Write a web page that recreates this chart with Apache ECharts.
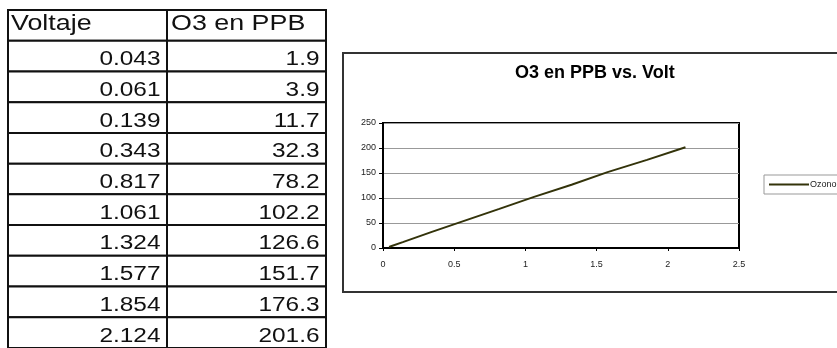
<!DOCTYPE html>
<html><head><meta charset="utf-8">
<script src="https://cdn.jsdelivr.net/npm/echarts@6/dist/echarts.min.js"></script>
<style>html,body{margin:0;padding:0;background:#fff}#c{width:837px;height:348px}</style>
</head><body><div id="c"></div>
<script>
// ---- data ----
const tableHeaders = ['Voltaje', 'O3 en PPB'];
const voltaje = [0.043, 0.061, 0.139, 0.343, 0.817, 1.061, 1.324, 1.577, 1.854, 2.124];
const ozono = [1.9, 3.9, 11.7, 32.3, 78.2, 102.2, 126.6, 151.7, 176.3, 201.6];
const seriesName = 'Ozono';
const chartTitle = 'O3 en PPB vs. Volt';
const xTicks = [0, 0.5, 1, 1.5, 2, 2.5];
const yTicks = [0, 50, 100, 150, 200, 250];

// ---- build ----
const rows = [tableHeaders].concat(voltaje.map((v, i) => [v.toFixed(3), ozono[i].toFixed(1)]));
const cells = [];
rows.forEach((r, ri) => r.forEach((t, ci) => cells.push([ci, ri, t])));
const FONT = '"Liberation Sans", Arial, sans-serif';
const LINE_COLOR = '#33330a';

const chart = echarts.init(document.getElementById('c'), null, {renderer: 'canvas'});
chart.setOption({
  animation: false,
  backgroundColor: '#fff',
  title: {
    text: chartTitle, left: 515, top: 64, padding: 0,
    textStyle: {fontFamily: FONT, fontWeight: 'bold', fontSize: 18, color: '#000'}
  },
  legend: {
    data: [{name: seriesName, icon: 'rect'}], left: 764, top: 175, orient: 'vertical',
    padding: [5, 40, 5, 5], itemWidth: 40, itemHeight: 2, itemGap: 0,
    borderColor: '#999', borderWidth: 1, backgroundColor: '#fff',
    itemStyle: {color: LINE_COLOR},
    textStyle: {fontFamily: FONT, fontSize: 9, color: '#222', padding: [0, 0, 0, -4]}
  },
  graphic: [{
    type: 'rect', shape: {x: 343, y: 53, width: 700, height: 239},
    style: {fill: 'none', stroke: '#333', lineWidth: 2}, silent: true
  }],
  grid: [
    {left: 383, top: 123, width: 356, height: 125, show: true, borderColor: '#000', borderWidth: 2, backgroundColor: '#fff'},
    {left: 8, top: 10, width: 318, height: 345.5}
  ],
  xAxis: [
    {type: 'value', gridIndex: 0, min: xTicks[0], max: xTicks[xTicks.length - 1], interval: 0.5,
     axisLine: {lineStyle: {color: '#000', width: 2}},
     axisTick: {show: true, length: 3, lineStyle: {color: '#000'}},
     axisLabel: {fontFamily: FONT, fontSize: 9, color: '#222', margin: 12},
     splitLine: {show: false}},
    {type: 'category', gridIndex: 1, data: tableHeaders.map((_, i) => String(i)), show: false}
  ],
  yAxis: [
    {type: 'value', gridIndex: 0, min: yTicks[0], max: yTicks[yTicks.length - 1], interval: 50,
     axisLine: {show: true, lineStyle: {color: '#000', width: 2}},
     axisTick: {show: true, length: 4, lineStyle: {color: '#000'}},
     axisLabel: {fontFamily: FONT, fontSize: 9, color: '#222', margin: 7},
     splitLine: {show: true, lineStyle: {color: '#999', width: 1}}},
    {type: 'category', gridIndex: 1, inverse: true, data: rows.map((_, i) => String(i)), show: false}
  ],
  series: [
    {
      name: seriesName, type: 'line', xAxisIndex: 0, yAxisIndex: 0,
      data: voltaje.map((v, i) => [v, ozono[i]]),
      symbol: 'none', showSymbol: false,
      lineStyle: {color: LINE_COLOR, width: 2}, itemStyle: {color: LINE_COLOR}
    },
    {
      type: 'custom', xAxisIndex: 1, yAxisIndex: 1, clip: false, silent: true,
      data: cells, encode: {x: 0, y: 1},
      renderItem: function (params, api) {
        const col = api.value(0), row = api.value(1);
        const c = api.coord([col, row]);
        const s = api.size([1, 1]);
        const x0 = c[0] - s[0] / 2, y0 = c[1] - s[1] / 2;
        const txt = cells[params.dataIndex][2];
        const header = row === 0;
        const tx = header ? x0 + (col === 0 ? 3 : 4) : x0 + s[0] - 6.5;
        const ty = header ? c[1] - 1 : c[1] + 3.5;
        return {
          type: 'group',
          children: [
            {type: 'rect', shape: {x: x0, y: y0, width: s[0], height: s[1]},
             style: {fill: '#fff', stroke: '#111', lineWidth: 2}},
            {type: 'text', x: tx, y: ty, scaleX: 1.22, scaleY: 1,
             style: {text: txt, x: 0, y: 0, font: (header ? '22px ' : '20px ') + FONT,
                     fill: '#111', align: header ? 'left' : 'right', verticalAlign: 'middle'}}
          ]
        };
      }
    }
  ]
});
</script></body></html>
